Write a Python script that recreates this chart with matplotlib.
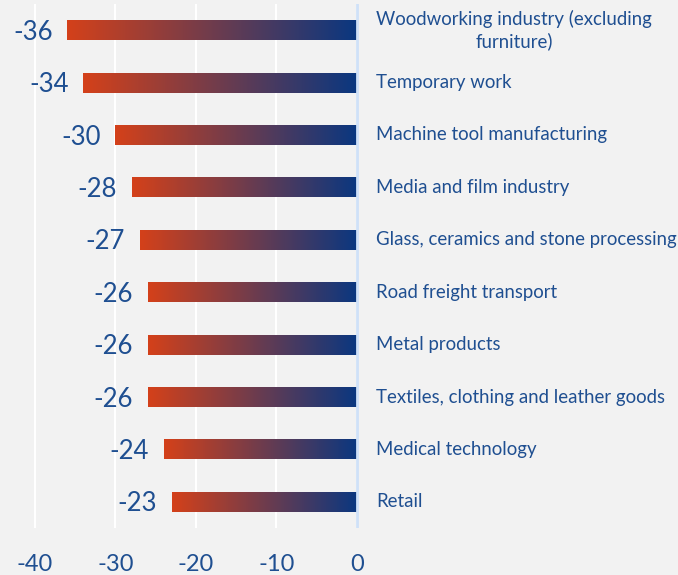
import matplotlib
matplotlib.use("Agg")
import matplotlib.pyplot as plt
import numpy as np
from matplotlib.colors import LinearSegmentedColormap

categories = [
    "Woodworking industry (excluding\nfurniture)",
    "Temporary work",
    "Machine tool manufacturing",
    "Media and film industry",
    "Glass, ceramics and stone processing",
    "Road freight transport",
    "Metal products",
    "Textiles, clothing and leather goods",
    "Medical technology",
    "Retail",
]
values = [-36, -34, -30, -28, -27, -26, -26, -26, -24, -23]
xticks = [-40, -30, -20, -10, 0]
xticklabels = ["-40", "-30", "-20", "-10", "0"]

plt.rcParams['font.family'] = ['Lato', 'DejaVu Sans']
TXT = "#1f4f91"
BG = "#f2f2f2"
cmap = LinearSegmentedColormap.from_list("g", ["#d4411a", "#0a3780"])

W, H = 678, 575
fig = plt.figure(figsize=(W/100, H/100), dpi=100, facecolor=BG)
pxu = (357 - 35) / 40.0
ax_l, ax_r = 20, 360
ax_t, ax_b = 4, 528
ax = fig.add_axes([ax_l/W, 1 - ax_b/H, (ax_r-ax_l)/W, (ax_b-ax_t)/H])
ax.set_facecolor(BG)
xmin = -40 - (35 - ax_l)/pxu
xmax = (ax_r - 357)/pxu

grad = np.linspace(0, 1, 256).reshape(1, -1)
h = 0.38
lab_x = 1.0 + (376-ax_r)/(ax_r-ax_l)
for i, (c, v) in enumerate(zip(categories, values)):
    ax.imshow(grad, cmap=cmap, aspect='auto', extent=(v, 0, i + h/2, i - h/2), zorder=2, interpolation='bilinear')
    ax.annotate(str(v), xy=(v, i), xytext=(-10.5, -1.5), textcoords='offset points',
                ha='right', va='center', fontsize=18.5, color=TXT, zorder=3)
    ax.text(lab_x, i, c, transform=ax.get_yaxis_transform(), ha='left', va='center',
            fontsize=13.4, color=TXT, clip_on=False, multialignment='center', linespacing=1.25)

ax.set_xlim(xmin, xmax)
ax.set_ylim(len(values) - 0.5, -0.5)
ax.set_xticks(xticks)
ax.set_xticklabels(xticklabels, fontsize=17, color=TXT)
ax.set_yticks([])
ax.tick_params(axis='x', length=0, pad=19)
ax.grid(axis='x', color='white', linewidth=1.5, zorder=0)
ax.set_axisbelow(True)
for s in ax.spines.values():
    s.set_visible(False)
ax.axvline(0, color="#cfe1f8", linewidth=2, zorder=4)

fig.savefig("out.png", dpi=100, facecolor=BG)
